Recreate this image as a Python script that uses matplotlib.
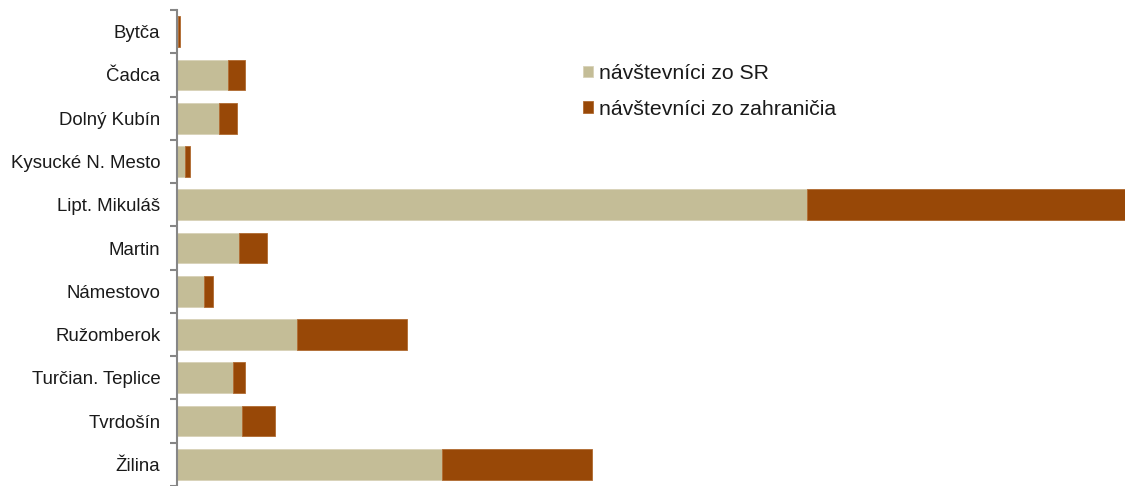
import matplotlib.pyplot as plt
import numpy as np

plt.rcParams['font.family'] = ['Liberation Sans', 'DejaVu Sans']

# okresy a počty návštevníkov (odhad z grafu)
okresy = ['Bytča', 'Čadca', 'Dolný Kubín', 'Kysucké N. Mesto', 'Lipt. Mikuláš', 'Martin',
          'Námestovo', 'Ružomberok', 'Turčian. Teplice', 'Tvrdošín', 'Žilina']
domaci = [0.5, 51, 42, 8, 630, 62, 27, 120, 56, 65, 265]
zahranicni = [2.5, 17, 18, 5, 318, 28, 9, 110, 12, 33, 150]

farba_sr = '#C4BD97'
farba_zahr = '#984807'

fig = plt.figure(figsize=(11.25, 4.86), dpi=100)
ax = fig.add_axes([177 / 1125, 0.0, 1 - 177 / 1125, 1 - 10 / 486])

y = np.arange(len(okresy))
domaci = np.array(domaci)
zahranicni = np.array(zahranicni)

ax.barh(y, domaci, height=0.71, color=farba_sr, edgecolor='#D8D2B8', linewidth=0.6,
        label='návštevníci zo SR')
ax.barh(y, zahranicni, left=domaci, height=0.71, color=farba_zahr, edgecolor='#B06A30',
        linewidth=0.6, label='návštevníci zo zahraničia')

ax.set_xlim(0, (domaci + zahranicni).max())
ax.set_ylim(len(okresy) - 0.5, -0.5)

ax.set_yticks(y)
ax.set_yticklabels(okresy, fontsize=13.4, color='#1a1a1a')
ax.set_yticks(np.arange(len(okresy) + 1) - 0.5, minor=True)
ax.tick_params(axis='y', which='major', length=0, pad=12)
ax.tick_params(axis='y', which='minor', length=5, width=1.5, color='#868686', direction='out')
ax.set_xticks([])

for s in ['top', 'right', 'bottom']:
    ax.spines[s].set_visible(False)
ax.spines['left'].set_color('#868686')
ax.spines['left'].set_linewidth(1.5)

ax.legend(loc='upper left', bbox_to_anchor=(0.4196, 0.9037), frameon=False, fontsize=15.3,
          handlelength=0.45, handleheight=0.45, handletextpad=0.3, labelspacing=0.77,
          borderaxespad=0, labelcolor='#1a1a1a')

fig.savefig('out.png', dpi=100)
